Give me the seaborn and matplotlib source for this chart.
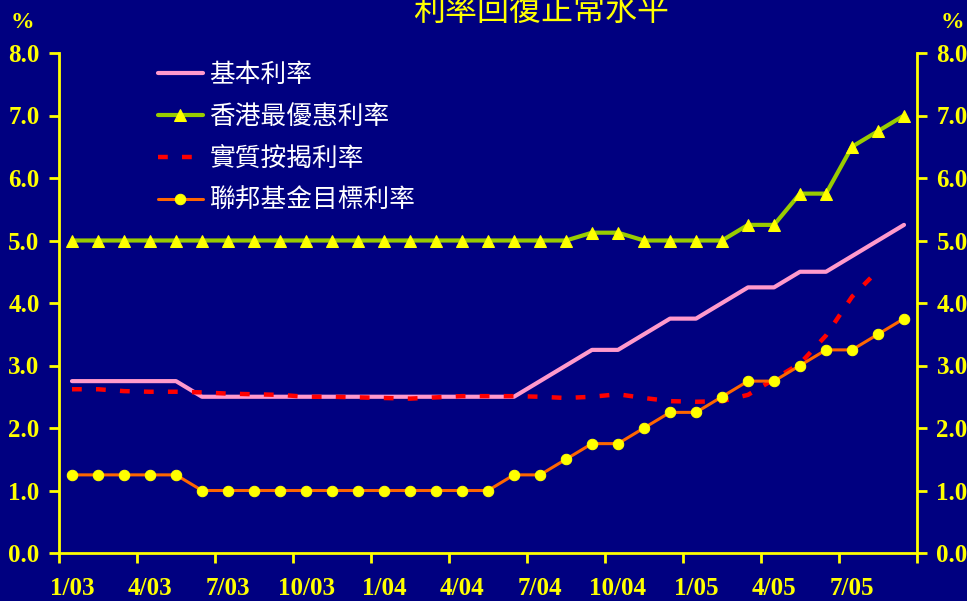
import numpy as np
import pandas as pd
import matplotlib
matplotlib.use("Agg")
import matplotlib.pyplot as plt
import seaborn as sns
from matplotlib.ticker import FixedLocator, FixedFormatter, NullFormatter

# Monthly data, 1/03 - 9/05
months = ["1/03", "2/03", "3/03", "4/03", "5/03", "6/03", "7/03", "8/03", "9/03",
          "10/03", "11/03", "12/03", "1/04", "2/04", "3/04", "4/04", "5/04", "6/04",
          "7/04", "8/04", "9/04", "10/04", "11/04", "12/04", "1/05", "2/05", "3/05",
          "4/05", "5/05", "6/05", "7/05", "8/05", "9/05"]

base_rate = [2.75, 2.75, 2.75, 2.75, 2.75, 2.5, 2.5, 2.5, 2.5, 2.5, 2.5, 2.5,
             2.5, 2.5, 2.5, 2.5, 2.5, 2.5, 2.75, 3.0, 3.25, 3.25, 3.5, 3.75,
             3.75, 4.0, 4.25, 4.25, 4.5, 4.5, 4.75, 5.0, 5.25]

hk_prime = [5.0, 5.0, 5.0, 5.0, 5.0, 5.0, 5.0, 5.0, 5.0, 5.0, 5.0, 5.0,
            5.0, 5.0, 5.0, 5.0, 5.0, 5.0, 5.0, 5.0, 5.125, 5.125, 5.0, 5.0,
            5.0, 5.0, 5.25, 5.25, 5.75, 5.75, 6.5, 6.75, 7.0]

mortgage = [2.62, 2.62, 2.59, 2.58, 2.58, 2.57, 2.55, 2.54, 2.53, 2.50, 2.50, 2.49,
            2.48, 2.47, 2.49, 2.51, 2.51, 2.51, 2.50, 2.48, 2.50, 2.54, 2.48, 2.43,
            2.42, 2.43, 2.53, 2.78, 3.03, 3.48, 4.10, 4.52, np.nan]

fed_funds = [1.25, 1.25, 1.25, 1.25, 1.25, 1.0, 1.0, 1.0, 1.0, 1.0, 1.0, 1.0,
             1.0, 1.0, 1.0, 1.0, 1.0, 1.25, 1.25, 1.5, 1.75, 1.75, 2.0, 2.25,
             2.25, 2.5, 2.75, 2.75, 3.0, 3.25, 3.25, 3.5, 3.75]

tick_labels = ["1/03", "4/03", "7/03", "10/03", "1/04", "4/04", "7/04",
               "10/04", "1/05", "4/05", "7/05"]

labels = ["基本利率", "香港最優惠利率", "實質按揭利率", "聯邦基金目標利率"]

df = pd.DataFrame({"month": months, "base": base_rate, "hk": hk_prime,
                   "mort": mortgage, "fed": fed_funds})
df["idx"] = np.arange(len(df))

sns.set_style("ticks")
plt.rcParams["font.family"] = ["Noto Sans CJK TC", "DejaVu Sans"]

NAVY = "#000080"
YEL = "#FFFF00"

fig = plt.figure(figsize=(9.67, 6.01), dpi=100, facecolor=NAVY)
ax = fig.add_axes([59 / 967, 1 - 553 / 601, (917 - 59) / 967, (553 - 53) / 601])
ax.set_facecolor(NAVY)

sns.lineplot(data=df, x="idx", y="base", ax=ax, color="#FF99CC", lw=3,
             label=labels[0])
sns.lineplot(data=df, x="idx", y="hk", ax=ax, color="#99CC00", lw=3,
             marker="^", markersize=8.5, markerfacecolor=YEL, markeredgecolor=YEL,
             label=labels[1])
sns.lineplot(data=df, x="idx", y="mort", ax=ax, color="#FF0000", lw=3.2,
             linestyle=(0, (2.2, 3.2)), label=labels[2])
sns.lineplot(data=df, x="idx", y="fed", ax=ax, color="#FF6600", lw=2.2,
             marker="o", markersize=7.5, markerfacecolor=YEL, markeredgecolor=YEL,
             label=labels[3])

ax.set_xlim(-0.5, len(months) - 0.5)
ax.set_ylim(0, 8)

# x: ticks at quarter boundaries, labels centred on first month
ax.xaxis.set_major_locator(FixedLocator(np.arange(-0.5, len(months), 3)))
ax.xaxis.set_major_formatter(NullFormatter())
ax.xaxis.set_minor_locator(FixedLocator(np.arange(0, len(months), 3)))
ax.xaxis.set_minor_formatter(FixedFormatter(tick_labels))
ax.tick_params(axis="x", which="major", length=7, width=2, color=YEL, direction="out")
ax.tick_params(axis="x", which="minor", length=0, pad=17, labelsize=18,
               labelcolor=YEL)

ax.set_yticks(np.arange(0, 8.1, 1))
ax.set_yticklabels([f"{v:.1f}" for v in np.arange(0, 8.1, 1)])
ax.tick_params(axis="y", length=7, width=2, color=YEL, labelcolor=YEL,
               labelsize=18, right=True, labelright=True, pad=7)

for lab in ax.get_xticklabels(minor=True) + ax.get_yticklabels():
    lab.set_fontfamily("Liberation Serif")
    lab.set_fontweight("bold")

for side in ["left", "right", "bottom"]:
    ax.spines[side].set_color(YEL)
    ax.spines[side].set_linewidth(2)
ax.spines["top"].set_visible(False)

ax.set_xlabel("")
ax.set_ylabel("")

leg = ax.legend(loc="upper left", bbox_to_anchor=(158 / 967, 1 - 62 / 601),
                bbox_transform=fig.transFigure, frameon=False, fontsize=18.5,
                handlelength=1.75, handletextpad=0.25, labelspacing=0.62,
                borderpad=0, borderaxespad=0)
for t in leg.get_texts():
    t.set_color("white")

fig.text(541 / 967, 1 - 11 / 601, "利率回復正常水平", color=YEL, fontsize=23,
         ha="center", va="center")
for xp in (22 / 967, 952 / 967):
    fig.text(xp, 1 - 22 / 601, "%", color=YEL, fontsize=17,
             family="Liberation Serif", fontweight="bold", ha="center", va="center")

fig.savefig("out.png", dpi=100, facecolor=NAVY)
